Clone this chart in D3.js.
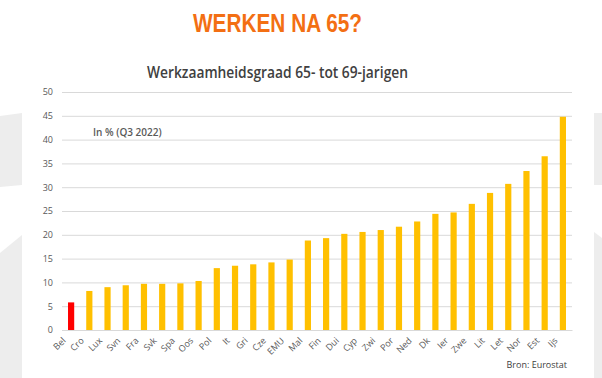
<!DOCTYPE html>
<html>
<head>
<meta charset="utf-8">
<script src="https://cdn.jsdelivr.net/npm/d3@7"></script>
<style>
  body { margin: 0; background: #fff; }
  svg { display: block; }
</style>
</head>
<body>
<svg id="chart" width="602" height="378"></svg>
<script>
// data
var countries = ["Bel", "Cro", "Lux", "Svn", "Fra", "Svk", "Spa", "Oos", "Pol", "It",
    "Gri", "Cze", "EMU", "Mal", "Fin", "Dui", "Cyp", "Zwi", "Por", "Ned",
    "Dk", "Ier", "Zwe", "Lit", "Let", "Nor", "Est", "Ijs"];
var rates = [5.8, 8.2, 9.0, 9.4, 9.7, 9.7, 9.8, 10.3, 13.0, 13.5,
    13.8, 14.2, 14.8, 18.8, 19.3, 20.2, 20.6, 21.0, 21.7, 22.8,
    24.4, 24.7, 26.5, 28.8, 30.7, 33.4, 36.5, 44.8];
var yTicks = [0, 5, 10, 15, 20, 25, 30, 35, 40, 45, 50];

var svg = d3.select("#chart");

// grey background shapes at the slide edges
var bg = "#ededed";
svg.append("path").attr("fill", bg).attr("d", "M0,116 L22,113 L22,185 L0,187 Z");
svg.append("path").attr("fill", bg).attr("d", "M0,253 L22,235 L22,378 L0,378 Z");
svg.append("path").attr("fill", bg).attr("d", "M594,113 L602,113 L602,185 L594,185 Z");
svg.append("path").attr("fill", bg).attr("d", "M594,232 L602,238 L602,378 L594,378 Z");

// titles (condensed a bit, the original font is narrower)
svg.append("text")
    .attr("x", 193).attr("y", 32)
    .attr("font-family", "Liberation Sans, Arial, sans-serif")
    .attr("font-weight", "bold")
    .attr("font-size", 25)
    .attr("textLength", 169)
    .attr("lengthAdjust", "spacingAndGlyphs")
    .attr("fill", "#f36f13")
    .text("WERKEN NA 65?");

svg.append("text")
    .attr("x", 147).attr("y", 78)
    .attr("font-family", "Open Sans, sans-serif")
    .attr("font-weight", 600)
    .attr("font-size", 15.5)
    .attr("textLength", 261)
    .attr("lengthAdjust", "spacingAndGlyphs")
    .attr("fill", "#404040")
    .text("Werkzaamheidsgraad 65- tot 69-jarigen");

var margin = {left: 62, right: 30, top: 92, bottom: 48};
var width = 602 - margin.left - margin.right;
var height = 378 - margin.top - margin.bottom;

var x = d3.scaleBand().domain(countries).range([0, width]).paddingInner(0.66).paddingOuter(0.33);
var y = d3.scaleLinear().domain([0, 50]).range([height, 0]);

var g = svg.append("g").attr("transform", "translate(" + margin.left + "," + margin.top + ")");

// gridlines + y labels
var yAxis = g.append("g")
    .call(d3.axisLeft(y).tickValues(yTicks).tickSize(-width).tickPadding(9));
yAxis.select(".domain").remove();
yAxis.selectAll(".tick line").attr("stroke", "#d9d9d9").attr("stroke-width", 1);
yAxis.selectAll(".tick text")
    .attr("font-family", "Open Sans, sans-serif")
    .attr("font-size", 9)
    .attr("fill", "#595959");

// bars
g.selectAll("rect.bar")
    .data(rates)
    .enter().append("rect")
    .attr("class", "bar")
    .attr("x", function(d, i){ return x(countries[i]); })
    .attr("width", x.bandwidth())
    .attr("y", function(d){ return y(d); })
    .attr("height", function(d){ return height - y(d); })
    .attr("fill", function(d, i){ return countries[i] === "Bel" ? "#ff0000" : "#ffc000"; });

// x labels, rotated 45 degrees
var xAxis = g.append("g")
    .attr("transform", "translate(0," + height + ")")
    .call(d3.axisBottom(x).tickSize(0));
xAxis.select(".domain").attr("stroke", "#d9d9d9");
xAxis.selectAll(".tick text")
    .attr("font-family", "Open Sans, sans-serif")
    .attr("font-size", 9)
    .attr("fill", "#595959")
    .attr("text-anchor", "end")
    .attr("x", 0).attr("y", 0)
    .attr("dy", "0.35em")
    .attr("transform", "translate(-7,9) rotate(-45)");

// notes
svg.append("text")
    .attr("x", 93).attr("y", 136)
    .attr("font-family", "Open Sans, sans-serif")
    .attr("font-weight", 600)
    .attr("font-size", 10)
    .attr("fill", "#595959")
    .text("In % (Q3 2022)");

svg.append("text")
    .attr("x", 567).attr("y", 368)
    .attr("text-anchor", "end")
    .attr("font-family", "Open Sans, sans-serif")
    .attr("font-size", 9)
    .attr("fill", "#404040")
    .text("Bron: Eurostat");
</script>
</body>
</html>
